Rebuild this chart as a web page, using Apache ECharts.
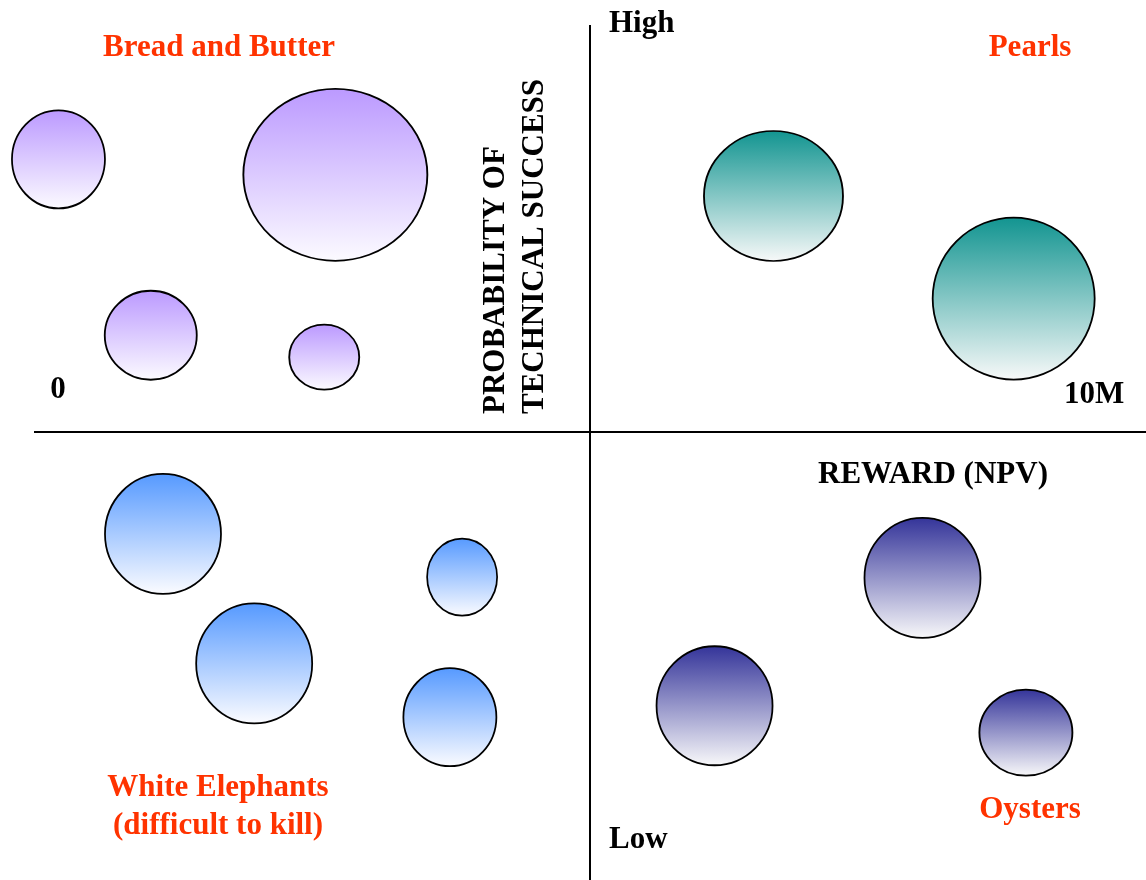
<!DOCTYPE html>
<html>
<head>
<meta charset="utf-8">
<script src="https://cdn.jsdelivr.net/npm/echarts@6/dist/echarts.min.js"></script>
<style>html,body{margin:0;padding:0;background:#fff;}#chart{width:1146px;height:880px;}</style>
</head>
<body>
<div id="chart"></div>
<script>
// Quadrant categories
const quadrants = ['Bread and Butter', 'Pearls', 'White Elephants', 'Oysters'];
// Reward (NPV, 0..10M) per project, grouped by quadrant
const rewardBread = [0.22, 2.71, 1.05, 2.61];
const rewardPearls = [6.65, 8.81];
const rewardWhite = [1.16, 1.98, 3.85, 3.74];
const rewardOysters = [7.99, 6.12, 8.92];
// Probability of technical success (%)
const probBread = [83.5, 81.6, 61.9, 59.2];
const probPearls = [79.0, 66.4];
const probWhite = [37.5, 21.6, 32.2, 15.0];
const probOysters = [32.1, 16.4, 13.1];
// Bubble extent (horizontal / vertical size values)
const sizeWBread = [9.3, 18.4, 9.2, 7.0];
const sizeHBread = [9.8, 17.2, 8.9, 6.5];
const sizeWPearls = [13.9, 16.2];
const sizeHPearls = [13.0, 16.2];
const sizeWWhite = [11.6, 11.6, 7.0, 9.3];
const sizeHWhite = [12.0, 12.0, 7.7, 9.8];
const sizeWOysters = [11.6, 11.6, 9.3];
const sizeHOysters = [12.0, 11.9, 8.6];
// Axis labels
const xAxisTitle = 'REWARD (NPV)';
const yAxisTitle = 'PROBABILITY OF\nTECHNICAL SUCCESS';
const xLowLabel = '0';
const xHighLabel = '10M';
const yHighLabel = 'High';
const yLowLabel = 'Low';

const SIZE_SCALE = 10;
const FONT = '"Liberation Serif", "Times New Roman", serif';
const RED = '#FF3300';
const topColors = ['#BB99FF', '#119490', '#5599FF', '#333399'];
const bottomColors = ['#FCFBFF', '#F8F9F9', '#FCFCFF', '#F9F9FA'];

function build(rx, py, sw, sh) {
  return rx.map((v, i) => [v, py[i], sw[i], sh[i]]);
}
const groups = [
  build(rewardBread, probBread, sizeWBread, sizeHBread),
  build(rewardPearls, probPearls, sizeWPearls, sizeHPearls),
  build(rewardWhite, probWhite, sizeWWhite, sizeHWhite),
  build(rewardOysters, probOysters, sizeWOysters, sizeHOysters)
];

const series = groups.map((data, k) => ({
  type: 'scatter',
  name: quadrants[k],
  data: data,
  symbol: 'circle',
  symbolSize: d => [d[2] * SIZE_SCALE, d[3] * SIZE_SCALE],
  itemStyle: {
    opacity: 1,
    borderColor: '#000',
    borderWidth: 1.8,
    color: {
      type: 'linear', x: 0, y: 0, x2: 0, y2: 1,
      colorStops: [
        { offset: 0, color: topColors[k] },
        { offset: 1, color: bottomColors[k] }
      ]
    }
  },
  emphasis: { disabled: true },
  silent: true,
  z: 3
}));

series.push({
  type: 'scatter',
  data: [],
  silent: true,
  markLine: {
    silent: true,
    symbol: 'none',
    animation: false,
    label: { show: false },
    lineStyle: { color: '#000', width: 2, type: 'solid' },
    data: [{ xAxis: 5 }, { yAxis: 50 }]
  }
});

function txt(text, x, y, opts) {
  return {
    type: 'text', x: x, y: y, silent: true,
    rotation: opts.rotation || 0,
    style: Object.assign({
      text: text,
      font: 'bold 31px ' + FONT,
      fill: opts.color || '#000',
      align: opts.align || 'center',
      verticalAlign: 'middle',
      lineHeight: opts.lineHeight || 31
    }, opts.style || {})
  };
}

const chart = echarts.init(document.getElementById('chart'), null, { renderer: 'canvas' });
chart.setOption({
  animation: false,
  backgroundColor: '#ffffff',
  grid: { left: 34, right: 0, top: 25, bottom: 0 },
  xAxis: {
    type: 'value', min: 0, max: 10,
    axisLine: { show: false }, axisTick: { show: false },
    axisLabel: { show: false }, splitLine: { show: false }
  },
  yAxis: {
    type: 'value', min: -5, max: 100,
    axisLine: { show: false }, axisTick: { show: false },
    axisLabel: { show: false }, splitLine: { show: false }
  },
  series: series,
  graphic: [
    txt(quadrants[0], 219, 48, { color: RED }),
    txt(quadrants[1], 1030, 48, { color: RED }),
    txt(quadrants[2] + '\n(difficult to kill)', 218, 807, { color: RED, lineHeight: 38 }),
    txt(quadrants[3], 1030, 810, { color: RED }),
    txt(yHighLabel, 609, 24, { align: 'left' }),
    txt(yLowLabel, 609, 840, { align: 'left' }),
    txt(xLowLabel, 58, 390, {}),
    txt(xHighLabel, 1064, 395, { align: 'left' }),
    txt(xAxisTitle, 933, 475, {}),
    txt(yAxisTitle, 515, 414, { align: 'left', rotation: Math.PI / 2, lineHeight: 39 })
  ]
});
</script>
</body>
</html>
